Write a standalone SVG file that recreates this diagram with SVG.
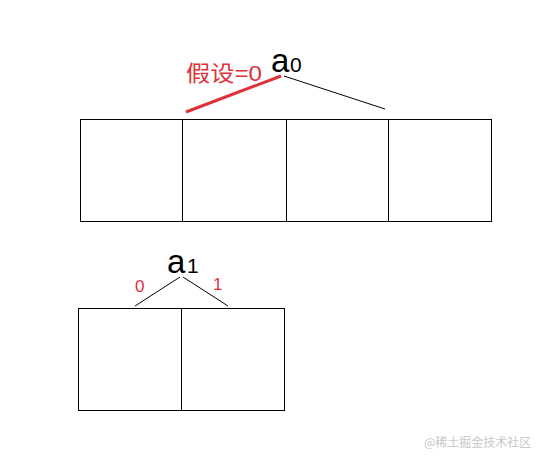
<svg xmlns="http://www.w3.org/2000/svg" width="539" height="463" viewBox="0 0 539 463">
<style>
.box{fill:#fff;stroke:#000;stroke-width:1}
.ln{stroke:#000;stroke-width:1;fill:none}
.red{fill:#e0313b;font-family:"Liberation Sans","Noto Sans CJK SC",sans-serif}
.lbl{fill:#000;font-family:"Liberation Sans","Noto Sans CJK SC",sans-serif}
</style>
<rect width="539" height="463" fill="#fff"/>
<g id="top-array">
<rect class="box" x="80.5" y="119.5" width="102" height="102"/>
<rect class="box" x="182.5" y="119.5" width="104" height="102"/>
<rect class="box" x="286.5" y="119.5" width="102" height="102"/>
<rect class="box" x="388.5" y="119.5" width="103" height="102"/>
</g>
<g id="bottom-array">
<rect class="box" x="78.5" y="308.5" width="103" height="102"/>
<rect class="box" x="181.5" y="308.5" width="103" height="102"/>
</g>
<g id="connectors">
<line x1="186" y1="112" x2="281" y2="76" stroke="#e0313b" stroke-width="3"/>
<line class="ln" x1="284" y1="76" x2="385" y2="109"/>
<line class="ln" x1="180" y1="277" x2="135" y2="306"/>
<line class="ln" x1="183" y1="277" x2="228" y2="306"/>
</g>
<g id="label-a0">
<text class="lbl" x="271" y="72" font-size="33">a</text>
<text class="lbl" x="290" y="72" font-size="21">0</text>
</g>
<g id="label-assume">
<text class="red" x="186" y="81" font-size="22" textLength="76" lengthAdjust="spacingAndGlyphs">假设=0</text>
</g>
<g id="label-a1">
<text class="lbl" x="167" y="273" font-size="33">a</text>
<text class="lbl" x="187" y="273" font-size="21">1</text>
<text class="red" x="135" y="292" font-size="17">0</text>
<text class="red" x="213" y="290" font-size="17">1</text>
</g>
<text x="424" y="447" font-size="12" fill="#c8c8c8" font-family="'Noto Sans CJK SC',sans-serif">@稀土掘金技术社区</text>
</svg>
